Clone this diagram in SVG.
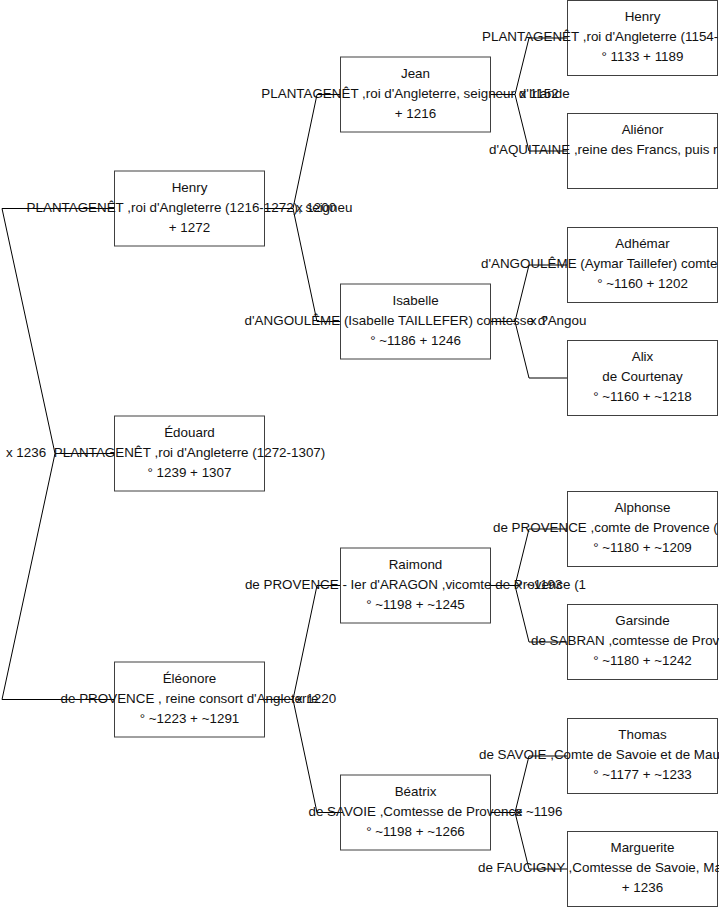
<svg xmlns="http://www.w3.org/2000/svg" width="719" height="908" viewBox="0 0 719 908">
<style>
rect.box{fill:#fff;stroke:#404040;stroke-width:1}
text{font-family:"Liberation Sans",Arial,sans-serif;font-size:13.4px;fill:#111}
.c{text-anchor:middle}
.s{text-anchor:start}
#connectors path{fill:none;stroke:#000;stroke-width:1}
</style>
<rect width="719" height="908" fill="#fff"/>
<g id="connectors">
<path d="M114.5,453.5H55L2,208.5H114.5M55,453.5L2,699.5H114.5"/>
<path d="M264.5,208.5H293L317,94.5H340.5M293,208.5L317,321.5H340.5"/>
<path d="M264.5,699.5H293L317,585.5H340.5M293,699.5L317,812.5H340.5"/>
<path d="M490.5,94.5H515L529,38H567.5M515,94.5L529,151H567.5"/>
<path d="M490.5,321.5H515L529,265H567.5M515,321.5L529,378H567.5"/>
<path d="M490.5,585.5H515L529,529H567.5M515,585.5L529,642H567.5"/>
<path d="M490.5,812.5H515L529,756H567.5M515,812.5L529,869H567.5"/>
</g>
<g id="n-henry3"><rect class="box" x="567.5" y="0.5" width="150" height="75"/>
<text class="c" x="642.5" y="21">Henry</text><text class="s" x="482" y="41">PLANTAGENÊT ,roi d'Angleterre (1154-</text><text class="c" x="642.5" y="61">° 1133 + 1189</text></g>
<g id="n-alienor"><rect class="box" x="567.5" y="113.5" width="150" height="75"/>
<text class="c" x="642.5" y="134">Aliénor</text><text class="s" x="489" y="154">d'AQUITAINE ,reine des Francs, puis r</text></g>
<g id="n-adhemar"><rect class="box" x="567.5" y="227.5" width="150" height="75"/>
<text class="c" x="642.5" y="248">Adhémar</text><text class="s" x="481" y="268">d'ANGOULÊME (Aymar Taillefer) comte</text><text class="c" x="642.5" y="288">° ~1160 + 1202</text></g>
<g id="n-alix"><rect class="box" x="567.5" y="340.5" width="150" height="75"/>
<text class="c" x="642.5" y="361">Alix</text><text class="c" x="642.5" y="381">de Courtenay</text><text class="c" x="642.5" y="401">° ~1160 + ~1218</text></g>
<g id="n-alphonse"><rect class="box" x="567.5" y="491.5" width="150" height="75"/>
<text class="c" x="642.5" y="512">Alphonse</text><text class="s" x="493" y="532">de PROVENCE ,comte de Provence (</text><text class="c" x="642.5" y="552">° ~1180 + ~1209</text></g>
<g id="n-garsinde"><rect class="box" x="567.5" y="604.5" width="150" height="75"/>
<text class="c" x="642.5" y="625">Garsinde</text><text class="s" x="531" y="645">de SABRAN ,comtesse de Prov</text><text class="c" x="642.5" y="665">° ~1180 + ~1242</text></g>
<g id="n-thomas"><rect class="box" x="567.5" y="718.5" width="150" height="75"/>
<text class="c" x="642.5" y="739">Thomas</text><text class="s" x="479" y="759">de SAVOIE ,Comte de Savoie et de Mau</text><text class="c" x="642.5" y="779">° ~1177 + ~1233</text></g>
<g id="n-marguerite"><rect class="box" x="567.5" y="831.5" width="150" height="75"/>
<text class="c" x="642.5" y="852">Marguerite</text><text class="s" x="478" y="872">de FAUCIGNY ,Comtesse de Savoie, Ma</text><text class="c" x="642.5" y="892">+ 1236</text></g>
<g id="n-jean"><rect class="box" x="340.5" y="57" width="150" height="75"/>
<text class="c" x="415.5" y="77.5">Jean</text><text class="c" x="415.5" y="97.5">PLANTAGENÊT ,roi d'Angleterre, seigneur d'Irlande</text><text class="c" x="415.5" y="117.5">+ 1216</text></g>
<g id="n-isabelle"><rect class="box" x="340.5" y="284" width="150" height="75"/>
<text class="c" x="415.5" y="304.5">Isabelle</text><text class="c" x="415.5" y="324.5">d'ANGOULÊME (Isabelle TAILLEFER) comtesse d'Angou</text><text class="c" x="415.5" y="344.5">° ~1186 + 1246</text></g>
<g id="n-raimond"><rect class="box" x="340.5" y="548" width="150" height="75"/>
<text class="c" x="415.5" y="568.5">Raimond</text><text class="c" x="415.5" y="588.5">de PROVENCE - Ier d'ARAGON ,vicomte de Provence (1</text><text class="c" x="415.5" y="608.5">° ~1198 + ~1245</text></g>
<g id="n-beatrix"><rect class="box" x="340.5" y="775" width="150" height="75"/>
<text class="c" x="415.5" y="795.5">Béatrix</text><text class="c" x="415.5" y="815.5">de SAVOIE ,Comtesse de Provence</text><text class="c" x="415.5" y="835.5">° ~1198 + ~1266</text></g>
<g id="n-henry1"><rect class="box" x="114.5" y="171" width="150" height="75"/>
<text class="c" x="189.5" y="191.5">Henry</text><text class="c" x="189.5" y="211.5">PLANTAGENÊT ,roi d'Angleterre (1216-1272), seigneu</text><text class="c" x="189.5" y="231.5">+ 1272</text></g>
<g id="n-edouard"><rect class="box" x="114.5" y="416" width="150" height="75"/>
<text class="c" x="189.5" y="436.5">Édouard</text><text class="c" x="189.5" y="456.5">PLANTAGENÊT ,roi d'Angleterre (1272-1307)</text><text class="c" x="189.5" y="476.5">° 1239 + 1307</text></g>
<g id="n-eleonore"><rect class="box" x="114.5" y="662" width="150" height="75"/>
<text class="c" x="189.5" y="682.5">Éléonore</text><text class="c" x="189.5" y="702.5">de PROVENCE , reine consort d'Angleterre</text><text class="c" x="189.5" y="722.5">° ~1223 + ~1291</text></g>
<g id="labels">
<text class="c" x="26" y="456.5">x 1236</text>
<text class="c" x="316" y="211.5">x 1200</text>
<text class="c" x="316" y="702.5">x 1220</text>
<text class="c" x="539" y="97.5">x 1152</text>
<text class="c" x="539" y="324.5">x ?</text>
<text class="c" x="539" y="588.5">x ~1193</text>
<text class="c" x="539" y="815.5">x ~1196</text>
</g>
</svg>
